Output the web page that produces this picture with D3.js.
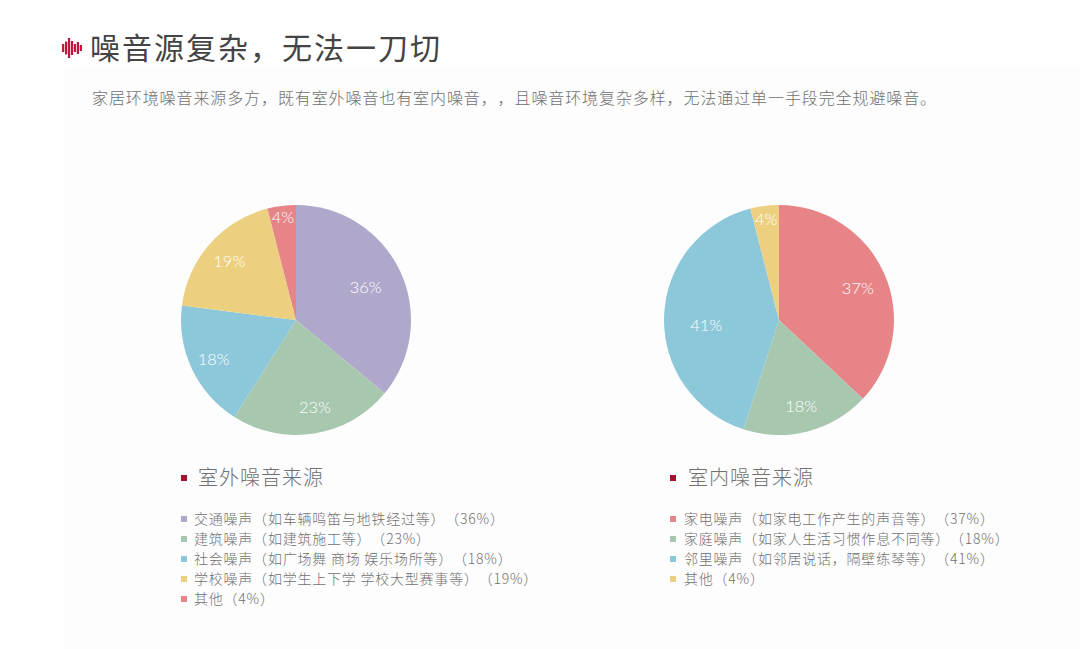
<!DOCTYPE html>
<html>
<head>
<meta charset="utf-8">
<script src="https://cdnjs.cloudflare.com/ajax/libs/d3/7.8.5/d3.min.js"></script>
<style>
  html, body { margin: 0; padding: 0; background: #fff; }
  svg { display: block; }
  text { font-family: "Noto Sans CJK SC", sans-serif; text-spacing-trim: space-all; }
</style>
</head>
<body>
<div id="chart"></div>
<script>
// Chart data
const titleText = "噪音源复杂，无法一刀切";
const subtitleText = "家居环境噪音来源多方，既有室外噪音也有室内噪音，，且噪音环境复杂多样，无法通过单一手段完全规避噪音。";

const outdoorTitle = "室外噪音来源";
const outdoorValues = [36, 23, 18, 19, 4];
const outdoorLegend = [
  "交通噪声（如车辆鸣笛与地铁经过等）（36%）",
  "建筑噪声（如建筑施工等）（23%）",
  "社会噪声（如广场舞 商场 娱乐场所等）（18%）",
  "学校噪声（如学生上下学 学校大型赛事等）（19%）",
  "其他（4%）"
];

const indoorTitle = "室内噪音来源";
const indoorValues = [37, 18, 41, 4];
const indoorLegend = [
  "家电噪声（如家电工作产生的声音等）（37%）",
  "家庭噪声（如家人生活习惯作息不同等）（18%）",
  "邻里噪声（如邻居说话，隔壁练琴等）（41%）",
  "其他（4%）"
];

// Layout and styles
const width = 1080, height = 649;
const colors = {
  purple: "#b0a8cb",
  green: "#a7c7ae",
  blue: "#8cc8d9",
  yellow: "#edd07f",
  red: "#e68488",
  accent: "#a8102f",
  title: "#444444",
  text: "#707070"
};
const radius = 115;
const panels = [
  {
    cx: 296, cy: 320, headX: 198, swatchX: 181, textX: 13,
    title: outdoorTitle, values: outdoorValues, legend: outdoorLegend,
    fills: [colors.purple, colors.green, colors.blue, colors.yellow, colors.red],
    labelRadius: [77, 89, 91, 89, 104],
    labelShift: [0, -3.3, 0, 0, 0]
  },
  {
    cx: 779, cy: 320, headX: 688, swatchX: 670, textX: 14,
    title: indoorTitle, values: indoorValues, legend: indoorLegend,
    fills: [colors.red, colors.green, colors.blue, colors.yellow],
    labelRadius: [85, 89, 73, 102],
    labelShift: [1.4, 0, -5.8, 0]
  }
];

const svg = d3.select("#chart").append("svg")
  .attr("width", width)
  .attr("height", height)
  .attr("viewBox", `0 0 ${width} ${height}`);

// Faint panel behind the content
svg.append("rect")
  .attr("x", 65).attr("y", 66)
  .attr("width", width - 65).attr("height", height - 66)
  .attr("fill", "#fdfdfd");

// Header icon, a small sound wave
const iconHeights = [8, 13, 20, 14, 8, 12, 6];
const iconX = d3.scaleBand().domain(d3.range(iconHeights.length)).range([62, 82]).paddingInner(0.25);
svg.append("g").selectAll("rect")
  .data(iconHeights)
  .join("rect")
  .attr("x", (d, i) => iconX(i))
  .attr("y", d => 48 - d / 2)
  .attr("width", iconX.bandwidth())
  .attr("height", d => d)
  .attr("fill", "#c4143f");

svg.append("text")
  .attr("x", 90).attr("y", 59)
  .attr("fill", colors.title)
  .style("font-size", "30px")
  .style("letter-spacing", "2px")
  .text(titleText);

svg.append("text")
  .attr("x", 92).attr("y", 104)
  .attr("fill", colors.text)
  .style("font-size", "16px")
  .style("font-weight", 300)
  .style("letter-spacing", "0.9px")
  .text(subtitleText);

// One pie, heading and legend per panel
panels.forEach(p => {
  const pie = d3.pie().sort(null);
  const arcs = pie(p.values);
  const arc = d3.arc().innerRadius(0).outerRadius(radius);

  const g = svg.append("g").attr("transform", `translate(${p.cx},${p.cy})`);

  g.selectAll("path")
    .data(arcs)
    .join("path")
    .attr("d", arc)
    .attr("fill", (d, i) => p.fills[i]);

  // Labels sit at hand-read radii, not on a shared ring
  g.selectAll("text")
    .data(arcs)
    .join("text")
    .attr("transform", (d, i) => {
      const a = (d.startAngle + d.endAngle) / 2 + p.labelShift[i] * Math.PI / 180;
      const c = d3.pointRadial(a, p.labelRadius[i]);
      return `translate(${c[0]},${c[1]})`;
    })
    .attr("text-anchor", "middle")
    .attr("dy", "0.36em")
    .attr("fill", "#ffffff")
    .style("font-family", "Lato, sans-serif")
    .style("font-size", "16.5px")
    .style("font-weight", 300)
    .text(d => `${d.value}%`);

  svg.append("rect")
    .attr("x", p.swatchX).attr("y", 475)
    .attr("width", 6).attr("height", 6)
    .attr("fill", colors.accent);

  svg.append("text")
    .attr("x", p.headX).attr("y", 485)
    .attr("fill", colors.text)
    .style("font-size", "20px")
    .style("font-weight", 300)
    .style("letter-spacing", "1px")
    .text(p.title);

  const rows = svg.append("g").selectAll("g")
    .data(p.legend)
    .join("g")
    .attr("transform", (d, i) => `translate(${p.swatchX},${519 + i * 20})`);

  rows.append("rect")
    .attr("y", -3)
    .attr("width", 6).attr("height", 6)
    .attr("fill", (d, i) => p.fills[i]);

  rows.append("text")
    .attr("x", p.textX).attr("y", 5)
    .attr("fill", colors.text)
    .style("font-size", "14px")
    .style("font-weight", 300)
    .style("letter-spacing", "0.78px")
    .text(d => d);
});
</script>
</body>
</html>
